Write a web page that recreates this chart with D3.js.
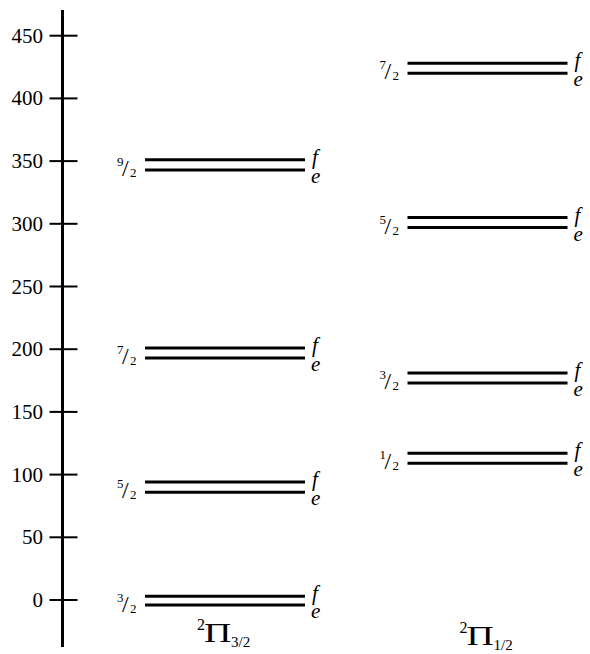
<!DOCTYPE html>
<html>
<head>
<meta charset="utf-8">
<script src="https://cdn.jsdelivr.net/npm/d3@7"></script>
<style>
  body { margin: 0; background: #fff; }
  svg text { font-family: "Liberation Serif", "DejaVu Serif", serif; fill: #000; }
</style>
</head>
<body>
<svg id="chart" width="590" height="654"></svg>
<script>
// energy levels (same units as axis)
var states = ["3/2", "1/2"];
var jLabels32 = ["3/2", "5/2", "7/2", "9/2"];
var f32 = [3, 94, 201, 351];
var e32 = [-4, 86, 193, 343];
var jLabels12 = ["1/2", "3/2", "5/2", "7/2"];
var f12 = [117, 181, 305, 428];
var e12 = [109, 173, 297, 420];
var yTicks = [0, 50, 100, 150, 200, 250, 300, 350, 400, 450];

var svg = d3.select("#chart");

var y = d3.scaleLinear().domain([0, 450]).range([600, 35.7]);
var x = d3.scalePoint().domain(states).range([225, 487.5]);
var halfW = 80;
var axisX = 62.5;

// axis line + cross ticks
svg.append("line")
  .attr("x1", axisX).attr("x2", axisX)
  .attr("y1", y(y.invert(10))).attr("y2", y(y.invert(647)))
  .attr("stroke", "#000").attr("stroke-width", 3);

var ticks = svg.append("g");
ticks.selectAll("line").data(yTicks).enter().append("line")
  .attr("x1", axisX - 13).attr("x2", axisX + 15)
  .attr("y1", function(d){ return y(d); })
  .attr("y2", function(d){ return y(d); })
  .attr("stroke", "#000").attr("stroke-width", 2);
ticks.selectAll("text").data(yTicks).enter().append("text")
  .attr("x", 43)
  .attr("y", function(d){ return y(d) + 7; })
  .attr("text-anchor", "end")
  .style("font-size", "21px")
  .text(function(d){ return d; });

// build level list
var levels = [];
jLabels32.forEach(function(j, i){
  levels.push({state: "3/2", j: j, f: f32[i], e: e32[i]});
});
jLabels12.forEach(function(j, i){
  levels.push({state: "1/2", j: j, f: f12[i], e: e12[i]});
});

var g = svg.selectAll("g.level").data(levels).enter().append("g").attr("class", "level");

g.append("line")
  .attr("x1", function(d){ return x(d.state) - halfW; })
  .attr("x2", function(d){ return x(d.state) + halfW; })
  .attr("y1", function(d){ return y(d.f); })
  .attr("y2", function(d){ return y(d.f); })
  .attr("stroke", "#000").attr("stroke-width", 3);
g.append("line")
  .attr("x1", function(d){ return x(d.state) - halfW; })
  .attr("x2", function(d){ return x(d.state) + halfW; })
  .attr("y1", function(d){ return y(d.e); })
  .attr("y2", function(d){ return y(d.e); })
  .attr("stroke", "#000").attr("stroke-width", 3);

// parity labels
g.append("text")
  .attr("x", function(d){ return x(d.state) + halfW + 7; })
  .attr("y", function(d){ return y(d.f) + 4; })
  .style("font-size", "21px").style("font-style", "italic")
  .text("f");
g.append("text")
  .attr("x", function(d){ return x(d.state) + halfW + 6; })
  .attr("y", function(d){ return y(d.e) + 13; })
  .style("font-size", "21px").style("font-style", "italic")
  .text("e");

// J fraction labels
function mid(d){ return (y(d.f) + y(d.e)) / 2; }
function lx(d){ return x(d.state) - halfW - 28; }
g.append("text")
  .attr("x", function(d){ return lx(d); })
  .attr("y", function(d){ return mid(d) + 1; })
  .style("font-size", "13px")
  .text(function(d){ return d.j.split("/")[0]; });
g.append("text")
  .attr("x", function(d){ return lx(d) + 5; })
  .attr("y", function(d){ return mid(d) + 11; })
  .style("font-size", "24px")
  .text("/");
g.append("text")
  .attr("x", function(d){ return lx(d) + 13; })
  .attr("y", function(d){ return mid(d) + 12; })
  .style("font-size", "13px")
  .text(function(d){ return d.j.split("/")[1]; });

// state labels under columns
var lab = svg.selectAll("g.state").data(states).enter().append("g")
  .attr("class", "state")
  .attr("transform", function(d, i){ return "translate(" + (x(d) - 28) + "," + (i ? 645 : 642) + ")"; });
lab.append("text").attr("x", 0).attr("y", -12).style("font-size", "16px").text("2");
lab.append("text").attr("transform", "translate(7,0) scale(1.35,1)")
  .style("font-size", "28px").text("\u03A0");
lab.append("text").attr("x", 34).attr("y", 5).style("font-size", "15px")
  .text(function(d){ return d; });
</script>
</body>
</html>
